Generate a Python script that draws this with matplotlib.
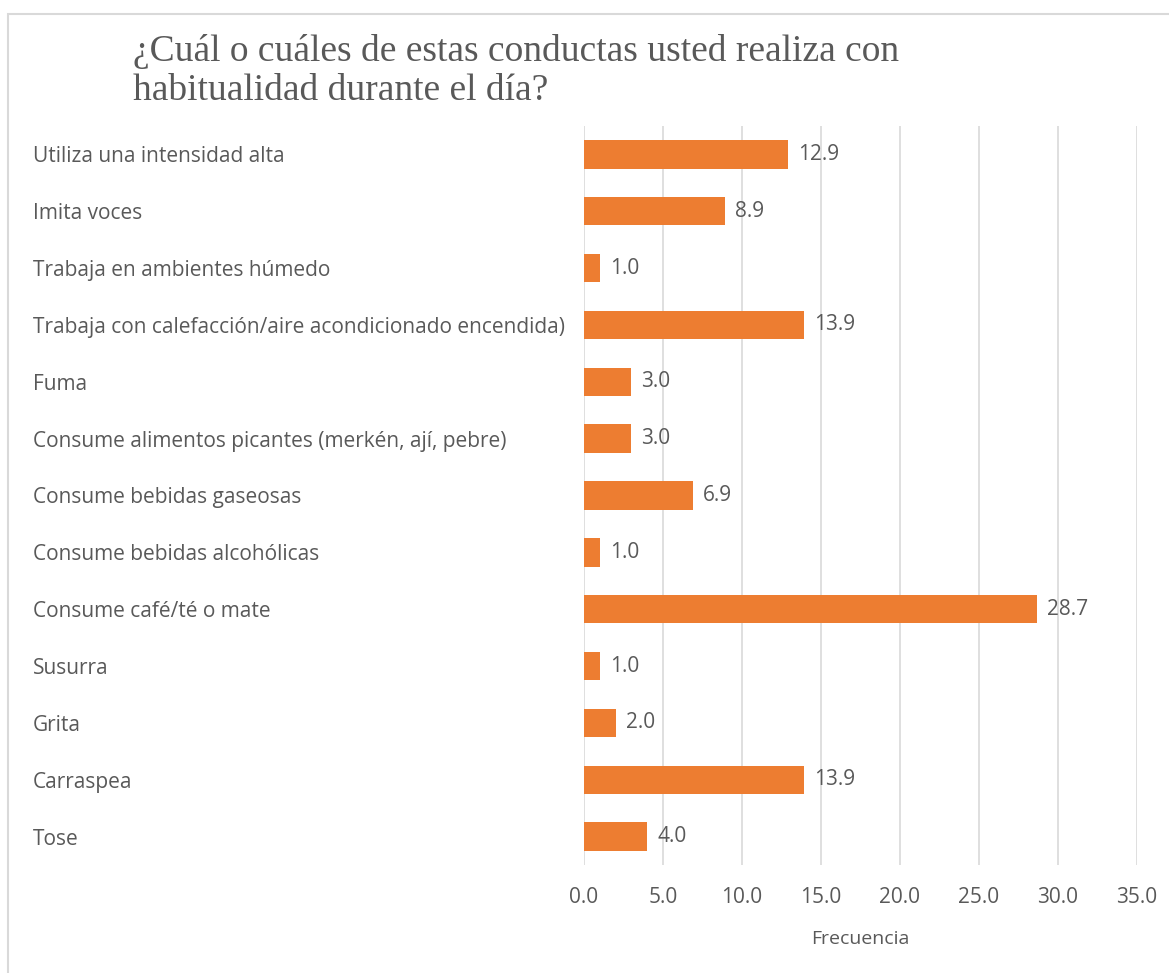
import matplotlib
matplotlib.use("Agg")
import matplotlib.pyplot as plt
from matplotlib.patches import Rectangle

categories = [
    "Utiliza una intensidad alta",
    "Imita voces",
    "Trabaja en ambientes húmedo",
    "Trabaja con calefacción/aire acondicionado encendida)",
    "Fuma",
    "Consume alimentos picantes (merkén, ají, pebre)",
    "Consume bebidas gaseosas",
    "Consume bebidas alcohólicas",
    "Consume café/té o mate",
    "Susurra",
    "Grita",
    "Carraspea",
    "Tose",
]
values = [12.9, 8.9, 1.0, 13.9, 3.0, 3.0, 6.9, 1.0, 28.7, 1.0, 2.0, 13.9, 4.0]
xticks = [0, 5, 10, 15, 20, 25, 30, 35]

W, H = 1169, 973
fig = plt.figure(figsize=(W / 100, H / 100), dpi=100)
ax = fig.add_axes([584 / W, 1 - 865 / H, (1137 - 584) / W, (865 - 126) / H])

text_color = "#595959"
bar_color = "#ED7D31"
font = "Open Sans"
fs = 15

y = list(range(len(categories)))
ax.barh(y, values, height=0.5, color=bar_color, zorder=3)
ax.set_ylim(len(categories) - 0.5, -0.5)
ax.set_xlim(0, 35)
ax.set_xticks(xticks)
ax.set_xticklabels([f"{t:.1f}" for t in xticks], fontsize=fs, color=text_color, family=font)
ax.set_yticks(y)
ax.set_yticklabels(categories, fontsize=fs, color=text_color, family=font, ha="left")
ax.tick_params(axis="y", length=0, pad=(584 - 33) * 0.72)
ax.tick_params(axis="x", length=0, pad=15.5)
ax.grid(axis="x", color="#D9D9D9", linewidth=1.2, zorder=0)
for s in ax.spines.values():
    s.set_visible(False)

for yi, v in zip(y, values):
    ax.text(v + 0.63, yi, f"{v:.1f}", va="center", ha="left", fontsize=fs,
            color=text_color, family=font, zorder=4)

ax.set_xlabel("Frecuencia", fontsize=14, color=text_color, family=font, labelpad=16)

fig.text(133 / W, 1 - 71 / H, "¿Cuál o cuáles de estas conductas usted realiza con\nhabitualidad durante el día?",
         family="Liberation Serif", fontsize=27, color=text_color, ha="left", va="center",
         linespacing=1.2)

fig.patches.append(Rectangle((8 / W, -0.05), 1.1, 1 - 14 / H + 0.05, transform=fig.transFigure,
                             fill=False, edgecolor="#D9D9D9", linewidth=1.5))

fig.savefig("out.png", dpi=100, facecolor="white")
